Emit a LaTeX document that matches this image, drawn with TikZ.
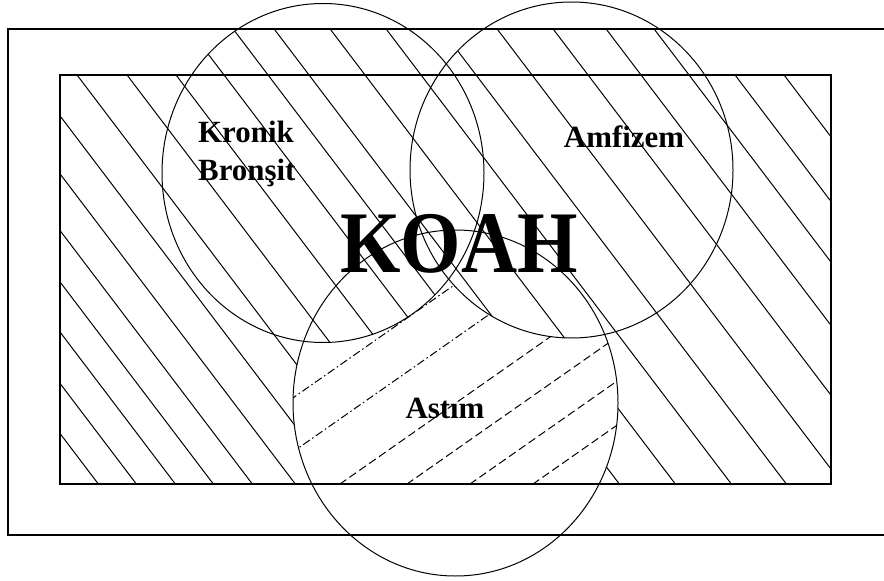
\documentclass[tikz,border=0pt]{standalone}
\usepackage{fontspec}
\setmainfont{Liberation Serif}
\usepackage{graphicx}
\usetikzlibrary{positioning}

% solid hatching, one line per x position at the inner bottom edge
\newcommand{\solidhatch}{%
  \foreach \xb in {99,137,176,214,253,296,340,388,438,487,535,579,620,676,732,787,843,899,952,1000,1046,1095}
    \draw[hatchline] (\xb+40,537.6) -- (\xb-380,-16);%
}

\begin{document}
\begin{tikzpicture}[
  x=1bp,y=-1bp,
  frameline/.style={line width=1.1pt,black},
  ringline/.style={line width=1pt,black},
  hatchline/.style={line width=1pt,black},
  dashline/.style={line width=1pt,black,dash pattern=on 8bp off 4bp},
  dotline/.style={line width=1pt,black,dash pattern=on 8bp off 3bp on 1.5bp off 3bp},
  lab/.style={font=\fontsize{31}{39}\selectfont\bfseries,inner sep=0pt},
  biglab/.style={font=\fontsize{78}{78}\selectfont\bfseries,inner sep=0pt}
]
\useasboundingbox (0,0) rectangle (884,581);

% centres of the three sets
\coordinate (kbc) at (323,173);
\coordinate (amc) at (571.5,170);
\coordinate (astc) at (455.5,403);

% hatching of the inner box
\begin{scope}
  \clip (60,75) rectangle (831,484);
  \solidhatch
\end{scope}

% Astim alone: rising dashed hatching
\begin{scope}
  \clip (60,75) rectangle (831,484);
  \clip (astc) ellipse [x radius=162.5, y radius=173];
  \fill[white] (60,75) rectangle (831,484);
  \foreach \xd in {340,407,470,533}
    \draw[dashline] (\xd-20,498) -- (\xd+400,204);
  \foreach \xd in {170,247}
    \draw[dotline] (\xd-20,498) -- (\xd+400,204);
\end{scope}

% Kronik Bronsit and Amfizem keep the falling hatching
\begin{scope}
  \clip (8,29) rectangle (890,535);
  \clip (kbc) ellipse [x radius=161, y radius=169.5] (amc) ellipse [x radius=161.5, y radius=168];
  \fill[white] (0,0) rectangle (884,581);
  \solidhatch
\end{scope}

% frames
\draw[frameline] (890,29) -- (8,29) -- (8,535) -- (890,535);
\draw[frameline] (60,75) rectangle (831,484);

% the three sets
\draw[ringline] (kbc) ellipse [x radius=161, y radius=169.5];
\draw[ringline] (amc) ellipse [x radius=161.5, y radius=168];
\draw[ringline] (astc) ellipse [x radius=162.5, y radius=173];

% labels
\node[lab,anchor=base west,align=left] (kronik) at (198,181) {Kronik\\Bronşit};
\node[lab,anchor=base] (amfizem) at (624,148) {Amfizem};
\node[lab,anchor=base] (astim) at (445,418) {Astım};
\node[biglab,anchor=base] (koah) at (459,272) {\scalebox{1}[1.13]{KOAH}};

\end{tikzpicture}
\end{document}
